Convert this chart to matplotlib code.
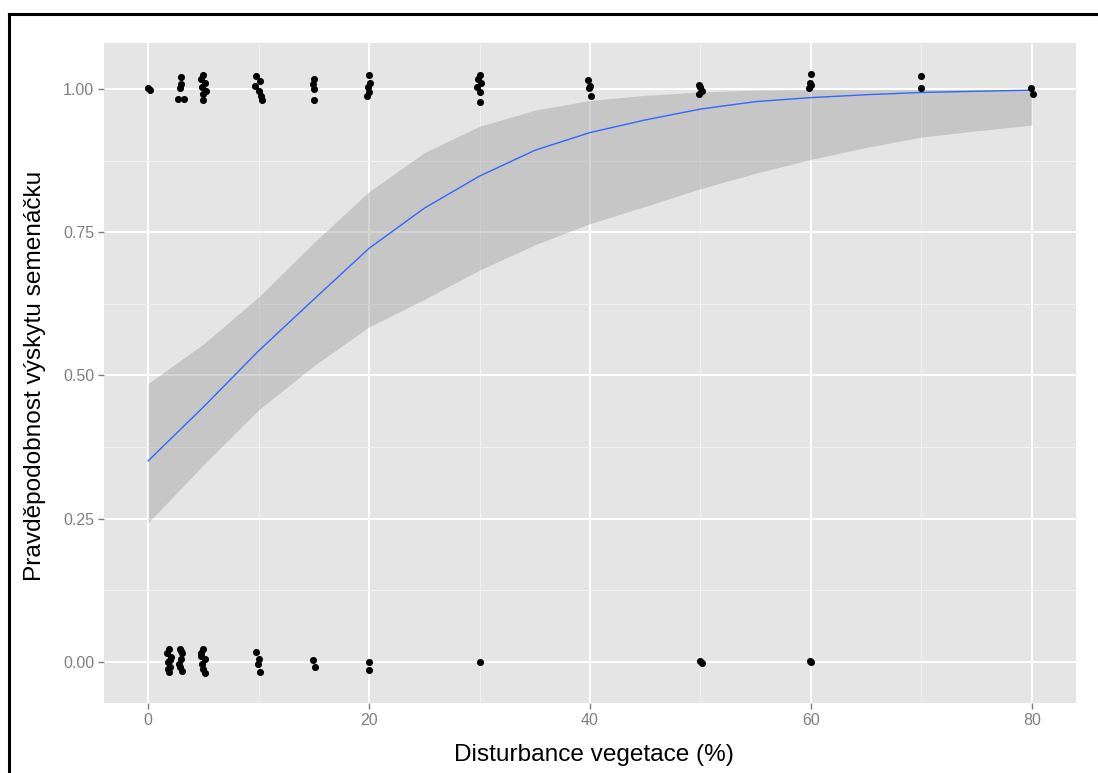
import matplotlib
matplotlib.use("Agg")
import matplotlib.pyplot as plt
from matplotlib.lines import Line2D
from matplotlib.ticker import MultipleLocator

# ---- data ----
# fitted curve and confidence band
curve_x = [0, 5, 10, 15, 20, 25, 30, 35, 40, 45, 50, 55, 60, 65, 70, 75, 80]
curve_y = [0.351, 0.445, 0.543, 0.633, 0.722, 0.792, 0.848, 0.893, 0.924, 0.946,
           0.965, 0.978, 0.985, 0.990, 0.994, 0.996, 0.998]
band_hi = [0.486, 0.555, 0.637, 0.732, 0.821, 0.889, 0.935, 0.963, 0.980, 0.989,
           0.995, 0.998, 0.999, 0.999, 0.999, 0.999, 0.999]
band_lo = [0.243, 0.344, 0.440, 0.517, 0.585, 0.633, 0.684, 0.728, 0.765, 0.795,
           0.826, 0.853, 0.877, 0.898, 0.916, 0.927, 0.937]

# jittered observations (presence = 1)
pres_x = [0.0, 0.2,
          2.7, 3.2, 3.0, 3.0, 2.9,
          5.0, 4.8, 5.1, 4.9, 5.2, 5.0, 5.0,
          9.8, 10.1, 9.7, 10.0, 10.2, 10.3,
          15.0, 14.9, 15.0, 15.0,
          20.0, 20.1, 19.9, 20.0, 19.8,
          30.0, 29.9, 30.1, 29.8, 30.0, 30.0,
          39.8, 40.0, 39.9, 40.1,
          49.9, 50.0, 50.1, 49.9,
          60.0, 59.9, 60.0, 59.8,
          70.0, 70.0,
          79.9, 80.1]
pres_y = [1.002, 0.998,
          0.983, 0.983, 1.021, 1.009, 1.002,
          1.024, 1.017, 1.010, 1.004, 0.997, 0.991, 0.980,
          1.023, 1.014, 1.006, 0.997, 0.988, 0.980,
          1.017, 1.009, 1.000, 0.980,
          1.024, 1.010, 1.003, 0.994, 0.987,
          1.024, 1.017, 1.010, 1.003, 0.994, 0.977,
          1.016, 1.006, 1.002, 0.987,
          1.007, 1.003, 0.997, 0.991,
          1.026, 1.011, 1.007, 1.002,
          1.023, 1.002,
          1.002, 0.991]

# jittered observations (absence = 0)
abs_x = [1.9, 1.7, 2.1, 1.8, 2.0, 1.9, 2.0, 1.8,
         2.9, 3.1, 3.0, 2.8, 3.1, 3.0, 2.9,
         5.0, 4.8, 5.1, 4.9, 5.0, 5.1, 4.8,
         9.8, 10.0, 9.9, 10.1,
         14.9, 15.1,
         20.0, 20.0,
         30.0,
         50.0, 50.1,
         60.0, 59.9]
abs_y = [0.023, 0.015, 0.009, 0.000, -0.009, -0.017, 0.004, -0.013,
         0.023, 0.015, 0.006, -0.003, -0.015, 0.019, -0.008,
         0.023, 0.015, 0.006, -0.003, -0.012, -0.020, 0.010,
         0.017, 0.006, -0.003, -0.017,
         0.003, -0.009,
         0.000, -0.014,
         0.000,
         0.001, -0.001,
         0.000, 0.001]

x_label = "Disturbance vegetace (%)"
y_label = "Pravděpodobnost výskytu semenáčku"

# ---- figure ----
plt.rcParams['font.family'] = ['Liberation Sans', 'DejaVu Sans']
fig = plt.figure(figsize=(10.98, 7.73), dpi=100)
ax = fig.add_axes([104/1098, 1-703/773, (1076-104)/1098, (703-43)/773])

ax.set_facecolor('#E5E5E5')
for s in ax.spines.values():
    s.set_visible(False)

ax.xaxis.set_major_locator(MultipleLocator(20))
ax.xaxis.set_minor_locator(MultipleLocator(10))
ax.yaxis.set_major_locator(MultipleLocator(0.25))
ax.yaxis.set_minor_locator(MultipleLocator(0.125))
ax.grid(which='major', color='white', linewidth=1.4)
ax.grid(which='minor', color='#F2F2F2', linewidth=0.7)
ax.set_axisbelow(True)
ax.tick_params(which='minor', length=0)
ax.tick_params(which='major', length=4, width=1, color='#7F7F7F',
               labelcolor='#808080', labelsize=11.5, pad=3)

ax.fill_between(curve_x, band_lo, band_hi, color='#999999', alpha=0.4,
                linewidth=0)
ax.plot(curve_x, curve_y, color='#3366FF', linewidth=1.0)
ax.scatter(pres_x, pres_y, s=26, color='black', linewidths=0, zorder=3)
ax.scatter(abs_x, abs_y, s=26, color='black', linewidths=0, zorder=3)

ax.set_xlim(-4, 84)
ax.set_ylim(-0.0716, 1.0803)
ax.set_yticks([0, 0.25, 0.5, 0.75, 1.0])
ax.set_yticklabels(['0.00', '0.25', '0.50', '0.75', '1.00'])
ax.set_xticks([0, 20, 40, 60, 80])

fig.text(594/1098, 1-755/773, x_label, ha='center', va='center',
         fontsize=17.6, color='black')
fig.text(35/1098, 1-376/773, y_label, ha='center', va='center',
         rotation=90, fontsize=17.6, color='black')

# outer frame (cut off at right and bottom)
fig.add_artist(Line2D([9/1098, 9/1098], [1-14/773, -0.1], color='black',
                      linewidth=2.2, transform=fig.transFigure))
fig.add_artist(Line2D([9/1098, 1.1], [1-14/773, 1-14/773], color='black',
                      linewidth=2.2, transform=fig.transFigure))

fig.savefig('out.png', dpi=100)
